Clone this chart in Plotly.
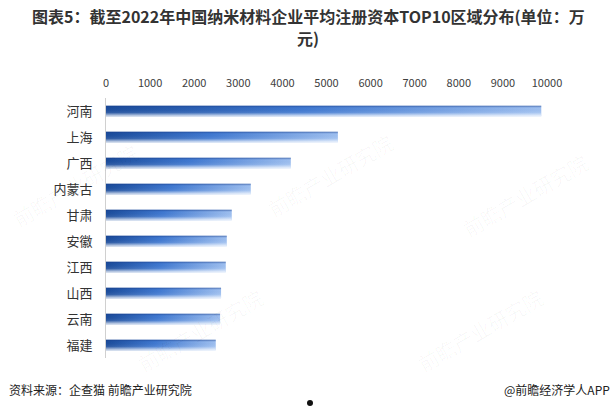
import plotly.graph_objects as go

regions = ["河南", "上海", "广西", "内蒙古", "甘肃", "安徽", "江西", "山西", "云南", "福建"]
capital = [9870, 5258, 4191, 3283, 2852, 2739, 2716, 2609, 2587, 2489]
x_ticks = [0, 1000, 2000, 3000, 4000, 5000, 6000, 7000, 8000, 9000, 10000]

title_line1 = "图表5：截至2022年中国纳米材料企业平均注册资本TOP10区域分布(单位：万"
title_line2 = "元)"
source_text = "资料来源：企查猫 前瞻产业研究院"
brand_text = "@前瞻经济学人APP"

W, H = 616, 412
ml, mr, mt, mb = 106, 69, 98, 54
ph = H - mt - mb
pw = W - ml - mr


def py(p):
    return (H - mb - p) / ph


def px(p):
    return (p - ml) / pw


n = len(regions)
half = 0.2
fig = go.Figure()
ypos = [n - 1 - i for i in range(n)]
for name, v, yc in zip(regions, capital, ypos):
    xs = [0, v, v, 0, 0]
    ys = [yc - half, yc - half, yc + half, yc + half, yc - half]
    fig.add_trace(go.Scatter(
        x=xs, y=ys, fill="toself", mode="lines", line=dict(width=0),
        fillgradient=dict(type="horizontal",
                          colorscale=[[0, "#1a4b9a"], [0.45, "#3f78d0"], [1, "#9fc0f0"]]),
        hoverinfo="skip", showlegend=False, name=name))
    fig.add_trace(go.Scatter(
        x=xs, y=ys, fill="toself", mode="lines", line=dict(width=0),
        fillgradient=dict(type="vertical",
                          colorscale=[[0, "rgba(255,255,255,0.8)"], [0.35, "rgba(255,255,255,0.1)"],
                                      [0.8, "rgba(30,70,150,0)"], [1, "rgba(20,55,130,0.55)"]]),
        hoverinfo="skip", showlegend=False, name=name))

fig.update_xaxes(side="top", range=[0, 10000], tickvals=x_ticks,
                 ticktext=[str(t) for t in x_ticks], showgrid=False, zeroline=False,
                 showline=False, ticks="", tickfont=dict(size=11, color="#404040"),
                 ticklabelstandoff=8, fixedrange=True)
fig.update_yaxes(range=[-0.5, n - 0.5], tickvals=ypos, ticktext=regions,
                 showgrid=False, zeroline=False, showline=True, linecolor="#d0d0d0",
                 linewidth=1, ticks="", tickfont=dict(size=13, color="#333333"),
                 ticklabelstandoff=10, fixedrange=True)

wm_pos = [(75, 185), (330, 175), (525, 195), (200, 330), (480, 330)]
annotations = []
for (ax, ay) in wm_pos:
    annotations.append(dict(text="前瞻产业研究院", x=px(ax), y=py(ay), xref="paper", yref="paper",
                            showarrow=False, textangle=-30,
                            font=dict(size=20, color="rgba(0,0,0,0.03)", family="Noto Sans CJK SC"),
                            xanchor="center", yanchor="middle"))
annotations += [
    dict(text="<b>" + title_line1 + "</b>", x=px(W / 2), y=py(16), xref="paper", yref="paper",
         xanchor="center", yanchor="middle", showarrow=False,
         font=dict(size=16, color="#333333", family="Noto Sans CJK SC")),
    dict(text="<b>" + title_line2 + "</b>", x=px(W / 2), y=py(38), xref="paper", yref="paper",
         xanchor="center", yanchor="middle", showarrow=False,
         font=dict(size=16, color="#333333", family="Noto Sans CJK SC")),
    dict(text=source_text, x=px(7), y=py(389), xref="paper", yref="paper",
         xanchor="left", yanchor="middle", showarrow=False,
         font=dict(size=12, color="#222222", family="Noto Sans CJK SC")),
    dict(text=brand_text, x=px(612), y=py(389), xref="paper", yref="paper",
         xanchor="right", yanchor="middle", showarrow=False,
         font=dict(size=12, color="#222222", family="Noto Sans CJK SC")),
]

shapes = [dict(type="circle", xref="paper", yref="paper",
               x0=px(307), x1=px(313), y0=py(406), y1=py(400),
               fillcolor="#111111", line=dict(width=0))]

fig.update_layout(width=W, height=H, margin=dict(l=ml, r=mr, t=mt, b=mb),
                  paper_bgcolor="white", plot_bgcolor="white",
                  font=dict(family="Noto Sans CJK SC, Noto Sans, sans-serif"),
                  annotations=annotations, shapes=shapes)
fig.write_html("out.html")
